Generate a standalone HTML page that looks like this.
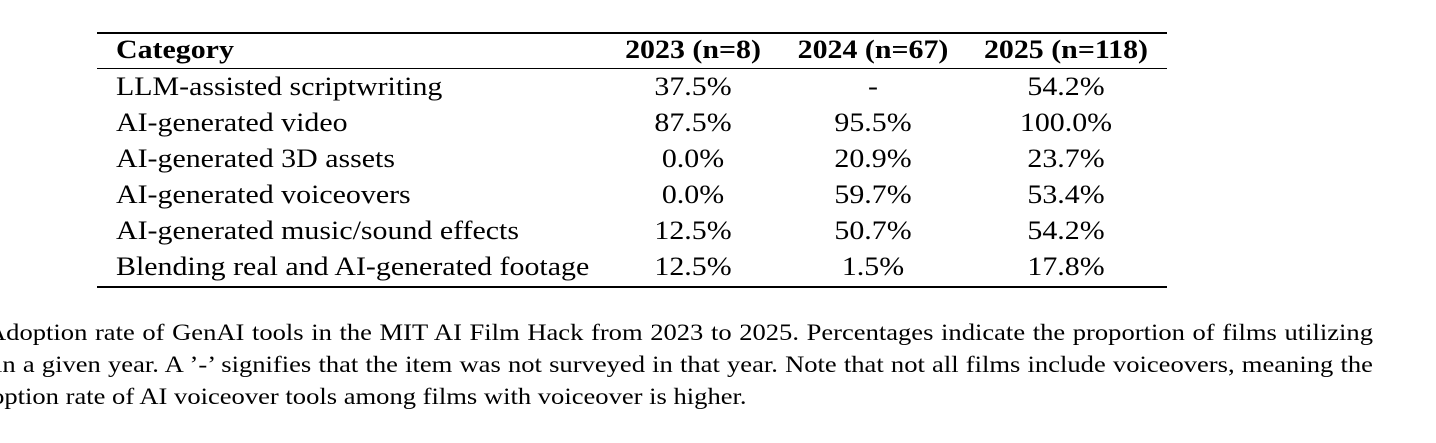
<!DOCTYPE html>
<html><head><meta charset="utf-8">
<style>
body{margin:0;width:1436px;height:443px;background:#fff;position:relative;overflow:hidden;font-family:"Liberation Serif",serif;color:#000}
.rule{position:absolute;left:97px;width:1070px;background:#000}
.c{position:absolute;font-size:26px;line-height:36px;white-space:nowrap;transform:scaleX(1.15);transform-origin:left center}
.n{text-align:center;width:180px;transform-origin:center center}
.cap{position:absolute;font-size:23px;line-height:32px;white-space:nowrap;transform:scaleX(1.155);transform-origin:left center}
</style></head><body>
<div class="rule" style="top:32px;height:2px"></div>
<div class="rule" style="top:68px;height:1px"></div>
<div class="rule" style="top:286px;height:2px"></div>
<div id="tbl"></div>
<div class="cap" style="left:-13px;top:317px;width:1200px;text-align:justify;text-align-last:justify;white-space:normal">Adoption rate of GenAI tools in the MIT AI Film Hack from 2023 to 2025. Percentages indicate the proportion of films utilizing</div>
<div class="cap" style="left:-5px;top:349px;width:1193px;text-align:justify;text-align-last:justify;white-space:normal">in a given year. A ’-’ signifies that the item was not surveyed in that year. Note that not all films include voiceovers, meaning the</div>
<div class="cap" style="left:-34px;top:381px">adoption rate of AI voiceover tools among films with voiceover is higher.</div>
<script>
const headers=["Category","2023 (n=8)","2024 (n=67)","2025 (n=118)"];
const categories=["LLM-assisted scriptwriting","AI-generated video","AI-generated 3D assets","AI-generated voiceovers","AI-generated music/sound effects","Blending real and AI-generated footage"];
const v2023=["37.5%","87.5%","0.0%","0.0%","12.5%","12.5%"];
const v2024=["-","95.5%","20.9%","59.7%","50.7%","1.5%"];
const v2025=["54.2%","100.0%","23.7%","53.4%","54.2%","17.8%"];
const centers=[693,873,1066];
const t=document.getElementById('tbl');
function cell(txt,top,left,num,bold,name){
  const d=document.createElement('div');
  d.className='c'+(num?' n':'');
  d.style.top=top+'px';
  d.style.left=(num?left-90:left)+'px';
  if(bold)d.style.fontWeight='bold';
  d.textContent=txt;
  
  
  t.appendChild(d);
}
cell(headers[0],32,116,false,true,'header-category');
for(let j=0;j<3;j++)cell(headers[j+1],32,centers[j],true,true,'header-year');
const cols=[v2023,v2024,v2025];
categories.forEach((c,i)=>{
  const top=69+i*36;
  cell(c,top,116,false,false,'category-label');
  cols.forEach((col,j)=>cell(col[i],top,centers[j],true,false,'value-cell'));
});
</script>
</body></html>
